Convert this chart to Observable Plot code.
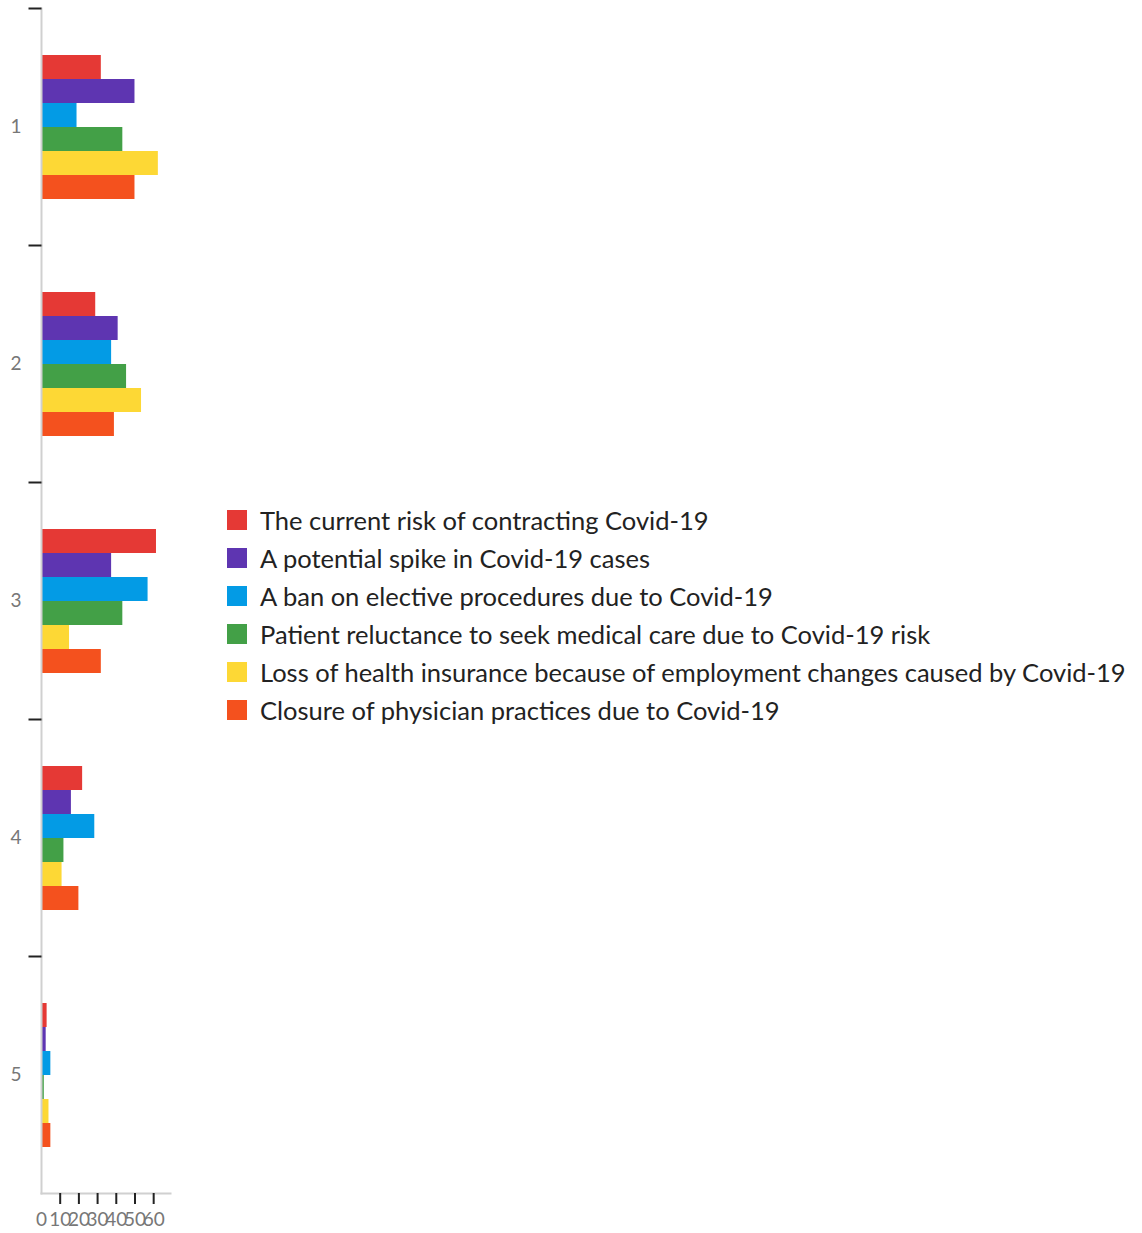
<!DOCTYPE html>
<html>
<head>
<meta charset="utf-8">
<script src="https://cdn.jsdelivr.net/npm/d3@7"></script>
<script src="https://cdn.jsdelivr.net/npm/@observablehq/plot@0.6"></script>
<style>
  body { margin: 0; background: #fff; font-family: Lato, sans-serif; }
  #wrap { position: relative; width: 1142px; height: 1233px; }
  #legend { position: absolute; left: 227px; top: 510px; }
  .row { display: flex; align-items: center; height: 38px; margin-top: -9px; margin-bottom: 9px; }
  .sw { width: 20px; height: 20px; flex: none; margin-right: 13px; }
  .lab { font-size: 25.5px; color: #222; white-space: nowrap; line-height: 20px; }
</style>
</head>
<body>
<div id="wrap">
  <div id="chart"></div>
  <div id="legend"></div>
</div>
<script>
// ---- data ----
const categories = ["1", "2", "3", "4", "5"];
const seriesNames = [
  "The current risk of contracting Covid-19",
  "A potential spike in Covid-19 cases",
  "A ban on elective procedures due to Covid-19",
  "Patient reluctance to seek medical care due to Covid-19 risk",
  "Loss of health insurance because of employment changes caused by Covid-19",
  "Closure of physician practices due to Covid-19"
];
const seriesColors = ["#e53935", "#5e35b1", "#039be5", "#43a047", "#fdd835", "#f4511e"];
const currentRisk = [32, 29, 61.5, 22, 3];
const potentialSpike = [50, 41, 37.5, 16, 2.5];
const electiveBan = [19, 37.5, 57, 28.5, 5];
const patientReluctance = [43.5, 45.5, 43.5, 12, 1.5];
const insuranceLoss = [62.5, 53.5, 15, 11, 4];
const practiceClosure = [50, 39, 32, 20, 5];
const xTicks = [0, 10, 20, 30, 40, 50, 60];

const seriesValues = [currentRisk, potentialSpike, electiveBan, patientReluctance, insuranceLoss, practiceClosure];
const rows = categories.flatMap((c, i) =>
  seriesNames.map((s, j) => ({category: c, series: s, value: seriesValues[j][i]}))
);

const tickSymbol = {
  draw(ctx) { ctx.moveTo(-13, 0); ctx.lineTo(0, 0); }
};

const chart = Plot.plot({
  width: 180,
  height: 1233,
  marginTop: 8,
  marginBottom: 40,
  marginLeft: 41,
  marginRight: 10,
  style: {fontFamily: "Lato, sans-serif", background: "#fff"},
  x: {domain: [0, 69], axis: null, label: null},
  y: {domain: seriesNames, paddingInner: 0, paddingOuter: 1.9, axis: null, label: null},
  fy: {domain: categories, padding: 0, axis: null, label: null},
  color: {domain: seriesNames, range: seriesColors},
  marks: [
    Plot.barX(rows, {x: "value", y: "series", fy: "category", fill: "series"}),
    Plot.frame({anchor: "left", stroke: "#d0d0d0", strokeWidth: 2}),
    Plot.frame({anchor: "bottom", facetAnchor: "bottom", stroke: "#d0d0d0", strokeWidth: 2}),
    Plot.dot(categories, {fy: d => d, frameAnchor: "top-left", symbol: tickSymbol, stroke: "#222", strokeWidth: 2, fill: "none"}),
    Plot.axisFy({anchor: "left", label: null, tickSize: 0, tickPadding: 20, fontSize: 19, color: "#777"}),
    Plot.axisX({anchor: "bottom", label: null, ticks: xTicks.filter(t => t > 0), tickSize: 11, text: null, stroke: "#222", strokeWidth: 2}),
    Plot.axisX({anchor: "bottom", label: null, ticks: xTicks, tickSize: 0, tickPadding: 19, fontSize: 19, color: "#777"})
  ]
});
document.getElementById("chart").appendChild(chart);

const legend = document.getElementById("legend");
seriesNames.forEach((s, i) => {
  const row = document.createElement("div");
  row.className = "row";
  const sw = document.createElement("div");
  sw.className = "sw";
  sw.style.background = seriesColors[i];
  const lab = document.createElement("span");
  lab.className = "lab";
  lab.textContent = s;
  row.appendChild(sw);
  row.appendChild(lab);
  legend.appendChild(row);
});
</script>
</body>
</html>
